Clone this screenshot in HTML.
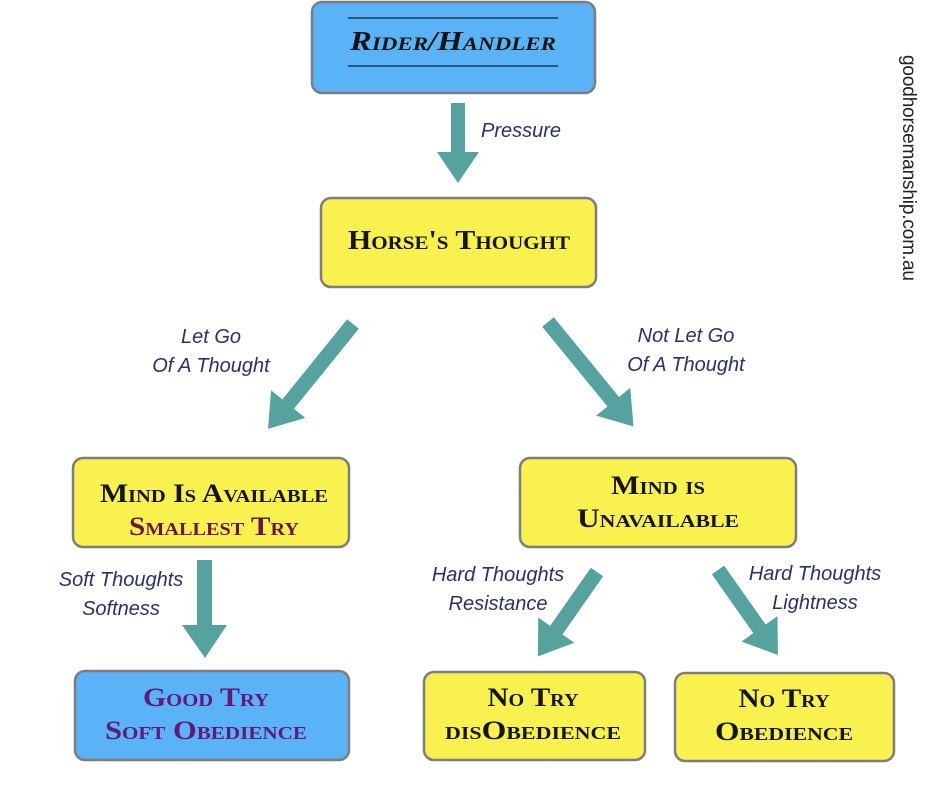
<!DOCTYPE html>
<html><head><meta charset="utf-8"><style>
html,body{margin:0;padding:0;background:#fff;}
svg{display:block;}
.box{stroke:#7d7d7d;stroke-width:2.5;}
.t{font-family:"Liberation Serif",serif;font-weight:bold;font-variant:small-caps;text-anchor:middle;fill:#141414;}
.l{font-family:"Liberation Sans",sans-serif;font-style:italic;font-size:20px;fill:#2a306c;text-anchor:middle;}
.a{fill:#55a29f;}
</style></head><body>
<svg width="940" height="788" viewBox="0 0 940 788" xmlns="http://www.w3.org/2000/svg">
<rect class="box" x="312" y="2" width="283" height="91" rx="10" fill="#5ab2f7"/>
<line x1="348" y1="18" x2="558" y2="18" stroke="#1e3a5f" stroke-width="1.5"/>
<line x1="348" y1="66" x2="558" y2="66" stroke="#1e3a5f" stroke-width="1.5"/>
<text class="t" x="453" y="50" font-size="27" font-style="italic" textLength="206" lengthAdjust="spacingAndGlyphs">Rider/Handler</text>

<rect class="box" x="321" y="198" width="275" height="89" rx="10" fill="#f9f24e"/>
<text class="t" x="459" y="249" font-size="27" textLength="222" lengthAdjust="spacingAndGlyphs">Horse's Thought</text>

<rect class="box" x="73" y="458" width="276" height="89" rx="10" fill="#f9f24e"/>
<text class="t" x="214" y="502" font-size="26" textLength="228" lengthAdjust="spacingAndGlyphs">Mind Is Available</text>
<text class="t" x="214" y="535" font-size="26" style="fill:#6a1547" textLength="170" lengthAdjust="spacingAndGlyphs">Smallest Try</text>

<rect class="box" x="520" y="458" width="276" height="89" rx="10" fill="#f9f24e"/>
<text class="t" x="658" y="494" font-size="26" textLength="94" lengthAdjust="spacingAndGlyphs">Mind is</text>
<text class="t" x="658" y="527" font-size="26" textLength="162" lengthAdjust="spacingAndGlyphs">Unavailable</text>

<rect class="box" x="75" y="671" width="274" height="89" rx="10" fill="#5ab2f7"/>
<text class="t" x="206" y="706" font-size="26" style="fill:#63187a" textLength="126" lengthAdjust="spacingAndGlyphs">Good Try</text>
<text class="t" x="206" y="739" font-size="26" style="fill:#63187a" textLength="202" lengthAdjust="spacingAndGlyphs">Soft Obedience</text>

<rect class="box" x="424" y="672" width="221" height="88" rx="10" fill="#f9f24e"/>
<text class="t" x="533" y="706" font-size="26" textLength="91" lengthAdjust="spacingAndGlyphs">No Try</text>
<text class="t" x="533" y="739" font-size="26" textLength="176" lengthAdjust="spacingAndGlyphs">disObedience</text>

<rect class="box" x="675" y="673" width="219" height="88" rx="10" fill="#f9f24e"/>
<text class="t" x="784" y="707" font-size="26" textLength="91" lengthAdjust="spacingAndGlyphs">No Try</text>
<text class="t" x="784" y="740" font-size="26" textLength="138" lengthAdjust="spacingAndGlyphs">Obedience</text>

<polygon class="a" points="451,103 465,103 465,152 479,152 458,183 437,152 451,152"/>
<polygon class="a" points="197,560 212,560 212,625 227,625 205,658 182,625 197,625"/>
<g transform="translate(353,324) rotate(39)"><polygon class="a" points="-7.5,0 7.5,0 7.5,103 22,103 0,135 -22,103 -7.5,103"/></g>
<g transform="translate(548,322) rotate(-39.3)"><polygon class="a" points="-7.5,0 7.5,0 7.5,103 22,103 0,135 -22,103 -7.5,103"/></g>
<g transform="translate(597,572) rotate(35)"><polygon class="a" points="-7.5,0 7.5,0 7.5,71 22,71 0,103 -22,71 -7.5,71"/></g>
<g transform="translate(718,570) rotate(-35.2)"><polygon class="a" points="-7.5,0 7.5,0 7.5,72 22,72 0,104 -22,72 -7.5,72"/></g>

<text class="l" x="521" y="137">Pressure</text>
<text class="l" x="211" y="343">Let Go</text>
<text class="l" x="211" y="372">Of A Thought</text>
<text class="l" x="686" y="342">Not Let Go</text>
<text class="l" x="686" y="371">Of A Thought</text>
<text class="l" x="121" y="586">Soft Thoughts</text>
<text class="l" x="121" y="615">Softness</text>
<text class="l" x="498" y="581">Hard Thoughts</text>
<text class="l" x="498" y="610">Resistance</text>
<text class="l" x="815" y="580">Hard Thoughts</text>
<text class="l" x="815" y="609">Lightness</text>

<text x="903" y="55" transform="rotate(90 903 55)" font-family="Liberation Sans,sans-serif" font-size="19" fill="#222" textLength="226">goodhorsemanship.com.au</text>
</svg>
</body></html>
